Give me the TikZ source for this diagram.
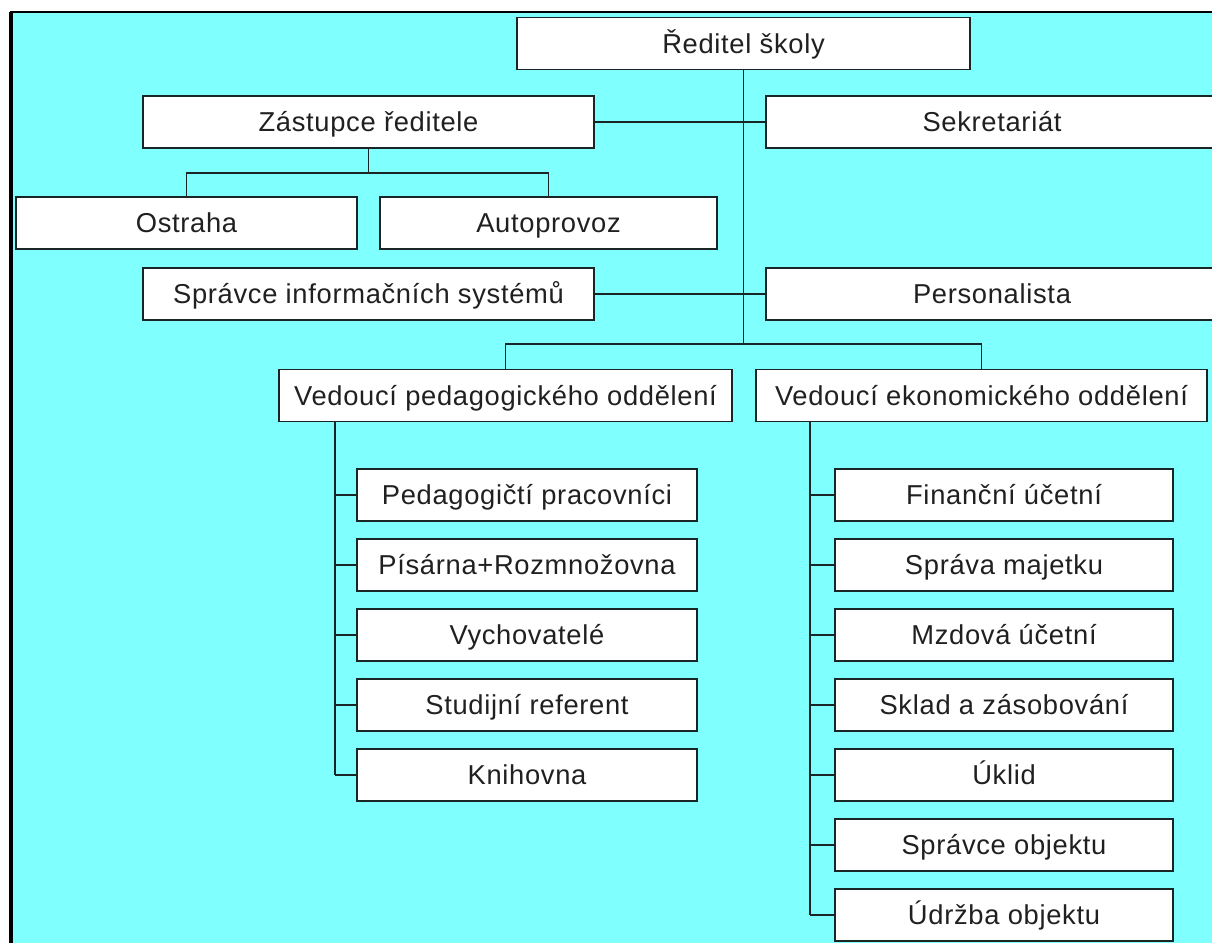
\documentclass[tikz,border=0pt]{standalone}
\usepackage{fontspec}
\setmainfont[LetterSpace=2.5]{Liberation Sans}
\definecolor{bgc}{HTML}{80FFFF}
\definecolor{ln}{HTML}{1A2626}
\definecolor{tx}{HTML}{202020}
\begin{document}
\begin{tikzpicture}[x=0.75pt,y=-0.75pt,
  box/.style={draw=ln,line width=1.25pt,fill=white,inner sep=0pt,
    minimum height=52*0.75pt,text height=14.7pt,text depth=0pt,text=tx,
    font=\fontsize{20.5}{24}\selectfont},
  bw/.style={minimum width=#1*0.75pt},
  conn/.style={draw=ln,line width=1.3pt}]
\useasboundingbox (0,0) rectangle (1212,942);
\clip (0,0) rectangle (1212,942);
\fill[bgc] (11,12) rectangle (1214,944);
\draw[line width=2.6pt] (11,946) -- (11,12);
\draw[line width=1.6pt] (10,12) -- (1214,12);

% coordinates for junctions
\coordinate (j) at (743.5,344);
\coordinate (dj) at (368.5,173);
\coordinate (pv) at (335,422);
\coordinate (ev) at (810,422);

% connectors
\draw[conn] (743.5,70) -- (j);
\draw[conn] (594,122) -- (766,122);
\draw[conn] (594,294) -- (766,294);
\draw[conn] (505.5,369) |- (j) -| (981.5,369);
\draw[conn] (368.5,148) -- (dj);
\draw[conn] (186.5,197) |- (dj) -| (548.5,197);
\draw[conn] (pv) -- (335,775);
\draw[conn] (ev) -- (810,915);
\foreach \y in {495,565,635,705,775}{\draw[conn] (335,\y) -- (357,\y);}
\foreach \y in {495,565,635,705,775,845,915}{\draw[conn] (810,\y) -- (835,\y);}

% boxes
\node[box,bw=453] (dir) at (743.5,43.5) {Ředitel školy};
\node[box,bw=451] (dep) at (368.5,122) {Zástupce ředitele};
\node[box,bw=452] (sek) at (992,122) {Sekretariát};
\node[box,bw=341] (ost) at (186.5,223) {Ostraha};
\node[box,bw=337] (aut) at (548.5,223) {Autoprovoz};
\node[box,bw=451] (sis) at (368.5,294) {Správce informačních systémů};
\node[box,bw=452] (per) at (992,294) {Personalista};
\node[box,bw=453] (vpo) at (505.5,395.5) {Vedoucí pedagogického oddělení};
\node[box,bw=451] (veo) at (981.5,395.5) {Vedoucí ekonomického oddělení};

\node[box,bw=340] (p1) at (527,495) {Pedagogičtí pracovníci};
\node[box,bw=340] (p2) at (527,565) {Písárna+Rozmnožovna};
\node[box,bw=340] (p3) at (527,635) {Vychovatelé};
\node[box,bw=340] (p4) at (527,705) {Studijní referent};
\node[box,bw=340] (p5) at (527,775) {Knihovna};

\node[box,bw=338] (e1) at (1004,495) {Finanční účetní};
\node[box,bw=338] (e2) at (1004,565) {Správa majetku};
\node[box,bw=338] (e3) at (1004,635) {Mzdová účetní};
\node[box,bw=338] (e4) at (1004,705) {Sklad a zásobování};
\node[box,bw=338] (e5) at (1004,775) {Úklid};
\node[box,bw=338] (e6) at (1004,845) {Správce objektu};
\node[box,bw=338] (e7) at (1004,915) {Údržba objektu};
\end{tikzpicture}
\end{document}
